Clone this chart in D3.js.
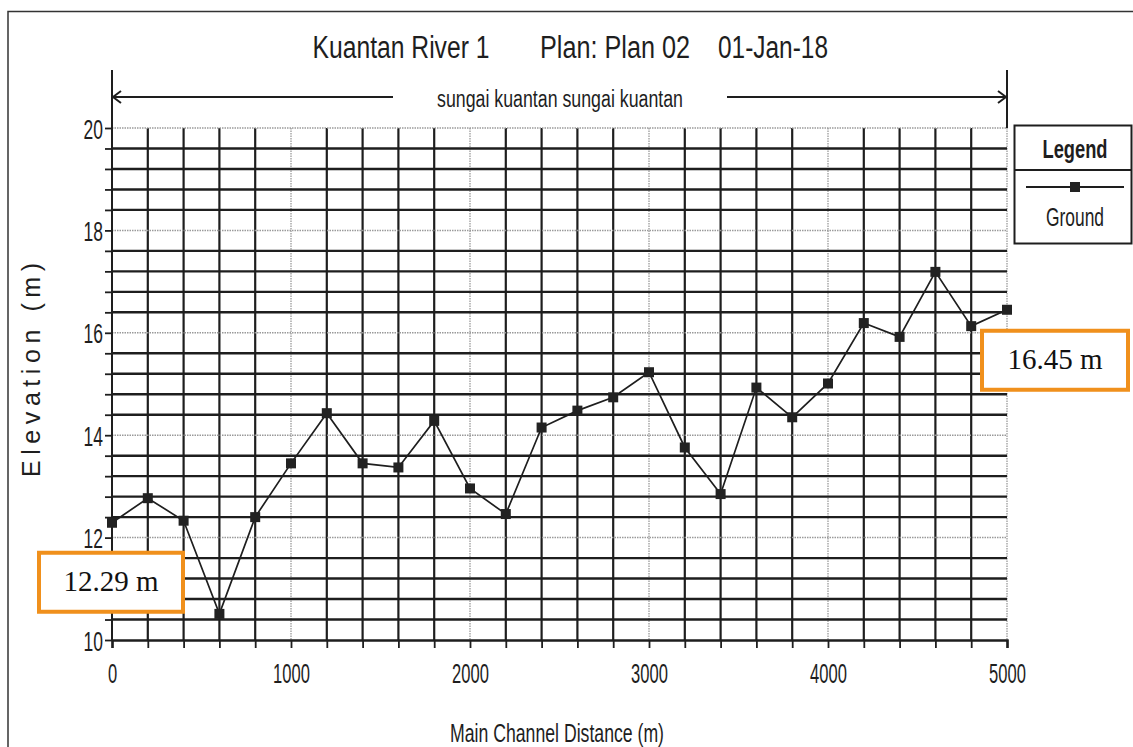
<!DOCTYPE html>
<html>
<head>
<meta charset="utf-8">
<script src="https://cdn.jsdelivr.net/npm/d3@7"></script>
<style>
  html, body { margin: 0; padding: 0; background: #fff; }
  svg { display: block; font-family: "Liberation Sans", Arial, sans-serif; }
</style>
</head>
<body>
<svg id="chart" width="1133" height="747"></svg>
<script>
// Ground profile along the main channel (station every 200 m)
const distances = [0, 200, 400, 600, 800, 1000, 1200, 1400, 1600, 1800, 2000, 2200, 2400,
                   2600, 2800, 3000, 3200, 3400, 3600, 3800, 4000, 4200, 4400, 4600, 4800, 5000];
const ground = [12.29, 12.77, 12.33, 10.51, 12.40, 13.45, 14.43, 13.45, 13.37, 14.28, 12.96, 12.46, 14.15,
                14.48, 14.74, 15.23, 13.76, 12.85, 14.93, 14.35, 15.01, 16.19, 15.92, 17.19, 16.13, 16.45];
const xTickLabels = ["0", "1000", "2000", "3000", "4000", "5000"];
const yTickLabels = ["10", "12", "14", "16", "18", "20"];
const titleParts = ["Kuantan River 1", "Plan: Plan 02", "01-Jan-18"];
const reachName = "sungai kuantan sungai kuantan";
const seriesName = "Ground";

const svg = d3.select("#chart");
const ink = "#1e1e1e";
const gridGrey = "#9a9a9a";
const orange = "#f0901c";
const sans = "Liberation Sans, Arial, sans-serif";
const serif = "Liberation Serif, Times New Roman, serif";

const x = d3.scaleLinear().domain([0, 5000]).range([112, 1007]);
const y = d3.scaleLinear().domain([10, 20]).range([640, 128]);

const isMajorX = v => v % 1000 === 0;
const isMajorY = v => Math.abs(v - Math.round(v)) < 1e-6 && Math.round(v) % 2 === 0;

// squeeze text horizontally to a given width (condensed face look)
function fit(sel, width) {
  sel.attr("textLength", width).attr("lengthAdjust", "spacingAndGlyphs");
}
const digitW = 9.2;

// outer frame
svg.append("path")
  .attr("d", "M8,747 L8,11.5 L1133,11.5")
  .attr("fill", "none").attr("stroke", "#333").attr("stroke-width", 1.5);

// vertical grid lines
const xGridVals = d3.range(0, 5001, 200);
svg.append("g").selectAll("line").data(xGridVals.filter(v => v > 0)).join("line")
  .attr("x1", d => x(d)).attr("x2", d => x(d))
  .attr("y1", y(20)).attr("y2", y(10))
  .attr("stroke", d => isMajorX(d) ? gridGrey : ink)
  .attr("stroke-width", d => isMajorX(d) ? 1.3 : 2.2)
  .attr("stroke-dasharray", d => isMajorX(d) ? "1.5,1" : null);

// horizontal grid lines
const yGridVals = d3.range(0, 26).map(i => 10 + i * 0.4);
svg.append("g").selectAll("line").data(yGridVals.slice(1)).join("line")
  .attr("x1", x(0)).attr("x2", x(5000))
  .attr("y1", d => y(d)).attr("y2", d => y(d))
  .attr("stroke", d => isMajorY(d) ? gridGrey : ink)
  .attr("stroke-width", d => isMajorY(d) ? 1.5 : 2.4)
  .attr("stroke-dasharray", d => isMajorY(d) ? "1.5,1" : null);

// axes
const xAxis = d3.axisBottom(x)
  .tickValues(xGridVals)
  .tickSize(8)
  .tickPadding(15)
  .tickFormat(d => isMajorX(d) ? xTickLabels[d / 1000] : "");
const gx = svg.append("g").attr("transform", `translate(0,${y(10)})`).call(xAxis);
gx.select(".domain").attr("stroke", ink).attr("stroke-width", 2.4);
gx.selectAll(".tick line").attr("stroke", ink).attr("stroke-width", 1.8);
gx.selectAll(".tick text")
  .attr("font-family", sans)
  .attr("font-size", 28).attr("fill", ink)
  .filter(function () { return this.textContent.length > 0; })
  .each(function () { fit(d3.select(this), this.textContent.length * digitW); });

const yAxis = d3.axisLeft(y)
  .tickValues(yGridVals)
  .tickSize(7)
  .tickPadding(2)
  .tickFormat(d => isMajorY(d) ? yTickLabels[(Math.round(d) - 10) / 2] : "");
const gy = svg.append("g").attr("transform", `translate(${x(0)},0)`).call(yAxis);
gy.select(".domain").remove();
gy.selectAll(".tick line").attr("stroke", ink).attr("stroke-width", 1.8);
gy.selectAll(".tick text")
  .attr("font-family", sans)
  .attr("font-size", 28).attr("fill", ink).attr("dy", "0.36em")
  .filter(function () { return this.textContent.length > 0; })
  .each(function () { fit(d3.select(this), this.textContent.length * digitW + 1); });

// left axis line, extended up to the reach bracket
svg.append("line").attr("x1", x(0)).attr("x2", x(0)).attr("y1", 70).attr("y2", y(10))
  .attr("stroke", ink).attr("stroke-width", 2);
// right end of reach bracket
svg.append("line").attr("x1", x(5000)).attr("x2", x(5000)).attr("y1", 70).attr("y2", y(20))
  .attr("stroke", ink).attr("stroke-width", 2);

// reach extent arrows
const arrowY = 97;
svg.append("line").attr("x1", x(0)).attr("x2", 393).attr("y1", arrowY).attr("y2", arrowY)
  .attr("stroke", ink).attr("stroke-width", 2);
svg.append("line").attr("x1", 727).attr("x2", x(5000)).attr("y1", arrowY).attr("y2", arrowY)
  .attr("stroke", ink).attr("stroke-width", 2);
svg.append("path")
  .attr("d", `M${x(0) + 9},${arrowY - 6} L${x(0) + 1},${arrowY} L${x(0) + 9},${arrowY + 6}`)
  .attr("fill", "none").attr("stroke", ink).attr("stroke-width", 2);
svg.append("path")
  .attr("d", `M${x(5000) - 9},${arrowY - 6} L${x(5000) - 1},${arrowY} L${x(5000) - 9},${arrowY + 6}`)
  .attr("fill", "none").attr("stroke", ink).attr("stroke-width", 2);
svg.append("text")
  .attr("x", 560).attr("y", 107).attr("text-anchor", "middle")
  .attr("font-size", 23).attr("fill", ink).text(reachName)
  .call(fit, 246);

// title
const titleX = [401, 615, 773];
const titleW = [177, 150, 110];
svg.append("g").selectAll("text").data(titleParts).join("text")
  .attr("x", (d, i) => titleX[i]).attr("y", 58).attr("text-anchor", "middle")
  .attr("font-size", 31).attr("fill", ink).text(d => d)
  .each(function (d, i) { fit(d3.select(this), titleW[i]); });

// axis titles
svg.append("text")
  .attr("x", 557).attr("y", 742).attr("text-anchor", "middle")
  .attr("font-size", 25).attr("fill", ink).text("Main Channel Distance (m)")
  .call(fit, 214);
svg.append("text")
  .attr("transform", "translate(40,370) rotate(-90)")
  .attr("text-anchor", "middle")
  .attr("font-size", 25).attr("fill", ink)
  .attr("textLength", 214).attr("lengthAdjust", "spacing")
  .text("Elevation (m)");

// ground profile
const pts = distances.map((d, i) => [d, ground[i]]);
svg.append("path").datum(pts)
  .attr("d", d3.line().x(d => x(d[0])).y(d => y(d[1])))
  .attr("fill", "none").attr("stroke", ink).attr("stroke-width", 1.7);
const ms = 10;
svg.append("g").selectAll("rect").data(pts).join("rect")
  .attr("x", d => x(d[0]) - ms / 2).attr("y", d => y(d[1]) - ms / 2)
  .attr("width", ms).attr("height", ms).attr("fill", "#222");

// legend
const lg = svg.append("g");
lg.append("rect").attr("x", 1014.5).attr("y", 125.5).attr("width", 117).attr("height", 118)
  .attr("fill", "#fff").attr("stroke", ink).attr("stroke-width", 2);
lg.append("line").attr("x1", 1014.5).attr("x2", 1131.5).attr("y1", 170).attr("y2", 170)
  .attr("stroke", ink).attr("stroke-width", 2);
lg.append("text").attr("x", 1075).attr("y", 158)
  .attr("text-anchor", "middle").attr("font-size", 25).attr("font-weight", "bold")
  .attr("fill", ink).text("Legend").call(fit, 65);
lg.append("line").attr("x1", 1026).attr("x2", 1124).attr("y1", 187).attr("y2", 187)
  .attr("stroke", ink).attr("stroke-width", 2);
lg.append("rect").attr("x", 1075 - ms / 2).attr("y", 187 - ms / 2).attr("width", ms).attr("height", ms)
  .attr("fill", "#222");
lg.append("text").attr("x", 1075).attr("y", 226)
  .attr("text-anchor", "middle").attr("font-size", 25).attr("fill", ink).text(seriesName)
  .call(fit, 58);

// callouts for the first and last stations
const first = pts[0], last = pts[pts.length - 1];
const callouts = [
  { v: first[1], bx: x(first[0]) - 73, by: y(first[1]) + 30, w: 144, h: 59 },
  { v: last[1],  bx: x(last[0]) - 25,  by: y(last[1]) + 21,  w: 146, h: 59 }
];
const cg = svg.append("g").selectAll("g").data(callouts).join("g");
cg.append("rect")
  .attr("x", d => d.bx).attr("y", d => d.by).attr("width", d => d.w).attr("height", d => d.h)
  .attr("fill", "#fff").attr("stroke", orange).attr("stroke-width", 4);
cg.append("text")
  .attr("x", d => d.bx + d.w / 2).attr("y", d => d.by + d.h / 2 + 9)
  .attr("text-anchor", "middle")
  .style("font-family", serif)
  .attr("font-size", 29).attr("fill", "#111")
  .text(d => `${d.v.toFixed(2)} m`);
</script>
</body>
</html>
